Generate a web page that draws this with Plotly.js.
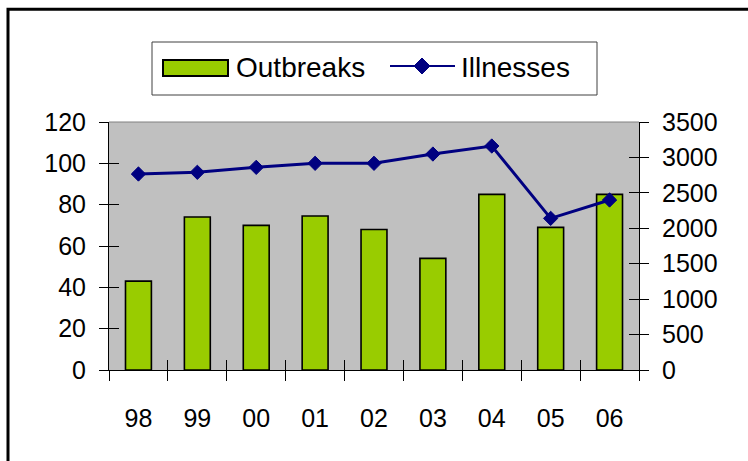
<!DOCTYPE html>
<html>
<head>
<meta charset="utf-8">
<script src="https://cdn.plot.ly/plotly-3.0.1.min.js"></script>
<style>html,body{margin:0;padding:0;background:#fff;}#chart{width:748px;height:461px;}</style>
</head>
<body>
<div id="chart"></div>
<script>
// Data
const years = ["98", "99", "00", "01", "02", "03", "04", "05", "06"];
const outbreaks = [43, 74, 70, 74.5, 68, 54, 85, 69, 85];
const illnesses = [2766, 2790, 2860, 2917, 2917, 3048, 3161, 2140, 2399];
const leftTicks = [0, 20, 40, 60, 80, 100, 120];
const rightTicks = [0, 500, 1000, 1500, 2000, 2500, 3000, 3500];
const seriesNames = ["Outbreaks", "Illnesses"];

const W = 748, H = 461;
const L = 109, R = 109, T = 122, B = 91;
const pw = W - L - R, ph = H - T - B;
const px = x => (x - L) / pw;
const py = y => (H - B - y) / ph;

const FONT = {family: "Liberation Sans, Arial, sans-serif", size: 25, color: "#000"};
const LEGFONT = {family: "Liberation Sans, Arial, sans-serif", size: 28, color: "#000"};
const GREEN = "#99CC00", NAVY = "#000080";

const traces = [
  {type: "bar", x: years, y: outbreaks, name: seriesNames[0], width: 0.44,
   marker: {color: GREEN, line: {color: "#000", width: 1.6}}, xaxis: "x", yaxis: "y", hoverinfo: "none"},
  {type: "scatter", mode: "lines+markers", x: years, y: illnesses, name: seriesNames[1],
   line: {color: NAVY, width: 3}, marker: {symbol: "diamond", size: 11, color: NAVY, line: {color: NAVY, width: 1}},
   xaxis: "x", yaxis: "y2", hoverinfo: "none"},
  {type: "scatter", mode: "markers", x: [], y: [], xaxis: "x2", yaxis: "y3", showlegend: false},
  {type: "scatter", mode: "markers", x: [], y: [], xaxis: "x2", yaxis: "y4", showlegend: false}
];

const shapes = [
  // outer frame
  {type: "rect", xref: "paper", yref: "paper", x0: px(8), x1: px(760), y0: py(475), y1: py(9.3),
   line: {color: "#000", width: 3}, fillcolor: "rgba(0,0,0,0)", layer: "above"},
  // plot area top border
  {type: "line", xref: "paper", yref: "paper", x0: 0, x1: 1, y0: 1, y1: 1, line: {color: "#808080", width: 1}},
  // legend box
  {type: "rect", xref: "paper", yref: "paper", x0: px(152), x1: px(597), y0: py(95), y1: py(42),
   line: {color: "#404040", width: 1}, fillcolor: "#fff"},
  // legend bar swatch
  {type: "rect", xref: "paper", yref: "paper", x0: px(163), x1: px(228), y0: py(76), y1: py(60),
   line: {color: "#000", width: 2}, fillcolor: GREEN},
  // legend line swatch
  {type: "line", xref: "paper", yref: "paper", x0: px(390), x1: px(455), y0: py(66), y1: py(66),
   line: {color: NAVY, width: 2}},
  {type: "path", xref: "paper", yref: "paper",
   path: `M ${px(414)} ${py(66)} L ${px(422)} ${py(58)} L ${px(430)} ${py(66)} L ${px(422)} ${py(74)} Z`,
   fillcolor: NAVY, line: {color: NAVY, width: 1}}
];

const annotations = [
  {xref: "paper", yref: "paper", x: px(234), y: py(67), xanchor: "left", yanchor: "middle",
   text: seriesNames[0], showarrow: false, font: LEGFONT},
  {xref: "paper", yref: "paper", x: px(459), y: py(67), xanchor: "left", yanchor: "middle",
   text: seriesNames[1], showarrow: false, font: LEGFONT}
];

const layout = {
  width: W, height: H,
  margin: {l: L, r: R, t: T, b: B, pad: 0},
  paper_bgcolor: "#fff", plot_bgcolor: "#C0C0C0",
  showlegend: false,
  font: FONT,
  xaxis: {type: "category", range: [-0.5, 8.5], tickson: "boundaries", ticks: "outside", ticklen: 10,
          tickcolor: "#000", tickwidth: 1, showline: true, linecolor: "#000", linewidth: 1,
          showgrid: false, zeroline: false, ticklabelstandoff: 26, tickfont: FONT, fixedrange: true},
  xaxis2: {type: "linear", overlaying: "x", anchor: "y", side: "bottom", range: [-0.5, 8.5], autorange: false,
           tick0: -0.5, dtick: 1, ticks: "inside", ticklen: 10, tickcolor: "#000", tickwidth: 1,
           showticklabels: false, showline: false, showgrid: false, zeroline: false},
  yaxis: {range: [0, 120], autorange: false, tickvals: leftTicks, ticktext: leftTicks.map(String),
          ticks: "outside", ticklen: 9, tickcolor: "#000", tickwidth: 1,
          showline: true, linecolor: "#000", linewidth: 1, showgrid: false, zeroline: false,
          ticklabelstandoff: 8, tickfont: FONT},
  yaxis2: {overlaying: "y", side: "right", anchor: "x", range: [0, 3500], autorange: false,
           tickvals: rightTicks, ticktext: rightTicks.map(String),
           ticks: "outside", ticklen: 9, tickcolor: "#000", tickwidth: 1,
           showline: true, linecolor: "#000", linewidth: 1, showgrid: false, zeroline: false,
           ticklabelstandoff: 8, tickfont: FONT},
  yaxis3: {overlaying: "y", side: "left", anchor: "x2", range: [0, 120], autorange: false, dtick: 20,
           ticks: "inside", ticklen: 10, tickcolor: "#000", tickwidth: 1, showticklabels: false,
           showline: false, showgrid: false, zeroline: false},
  yaxis4: {overlaying: "y", side: "right", anchor: "x2", range: [0, 3500], autorange: false, dtick: 500,
           ticks: "inside", ticklen: 10, tickcolor: "#000", tickwidth: 1, showticklabels: false,
           showline: false, showgrid: false, zeroline: false},
  shapes: shapes,
  annotations: annotations
};

Plotly.newPlot("chart", traces, layout, {staticPlot: true, displayModeBar: false});
</script>
</body>
</html>
